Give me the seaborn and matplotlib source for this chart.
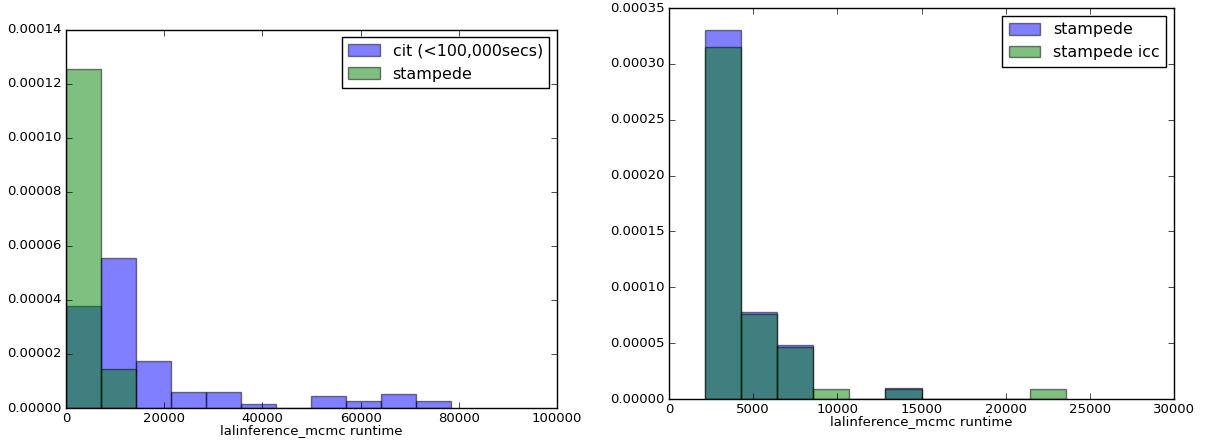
import matplotlib
matplotlib.use("Agg")
import matplotlib.pyplot as plt
import seaborn as sns
import numpy as np

# ---- data (density values) ----
left_bin_edges = [0, 7128, 14256, 21384, 28512, 35640, 42768, 49896, 57024, 64152, 71280, 78408]
cit_density = [0.0000379, 0.0000554, 0.0000175, 0.0000060, 0.0000060, 0.0000016,
               0.0, 0.0000043, 0.0000026, 0.0000052, 0.0000026]
stampede_left_edges = [0, 7128, 14256]
stampede_left_density = [0.0001254, 0.0000145]

right_bin_edges = [2140, 4283, 6426, 8569, 10712, 12855, 14998, 17141, 19284, 21427, 23570]
stampede_density = [0.0003303, 0.0000778, 0.0000487, 0.0, 0.0, 0.0000097, 0.0, 0.0, 0.0, 0.0]
stampede_icc_density = [0.0003151, 0.0000757, 0.0000469, 0.0000093, 0.0, 0.0000090,
                        0.0, 0.0, 0.0, 0.0000093]

left_labels = ["cit (<100,000secs)", "stampede"]
right_labels = ["stampede", "stampede icc"]
xlabel_text = "lalinference_mcmc runtime"
left_yticks = [0, 0.00002, 0.00004, 0.00006, 0.00008, 0.00010, 0.00012, 0.00014]
left_xticks = [0, 20000, 40000, 60000, 80000, 100000]
right_yticks = [0, 0.00005, 0.00010, 0.00015, 0.00020, 0.00025, 0.00030, 0.00035]
right_xticks = [0, 5000, 10000, 15000, 20000, 25000, 30000]

plt.style.use("classic")
plt.rcParams["figure.facecolor"] = "white"
plt.rcParams["savefig.facecolor"] = "white"
plt.rcParams["font.family"] = ["DejaVu Sans"]

TICK_FS = 9.5
LEG_FS = 11.4

fig = plt.figure(figsize=(12.07, 4.41), dpi=100)
ax1 = fig.add_axes([0.0547, 0.0748, 0.4068, 0.8583])
ax2 = fig.add_axes([0.5543, 0.0952, 0.4184, 0.8866])


def centers(edges):
    e = np.asarray(edges, dtype=float)
    return (e[:-1] + e[1:]) / 2


def draw(ax, edges, dens, color, label):
    sns.histplot(x=centers(edges), weights=dens, bins=edges, stat="count",
                 color=color, alpha=0.5, edgecolor=(0, 0, 0, 0.5), linewidth=1.0,
                 label=label, ax=ax)


draw(ax1, left_bin_edges, cit_density, "b", left_labels[0])
draw(ax1, stampede_left_edges, stampede_left_density, "g", left_labels[1])
draw(ax2, right_bin_edges, stampede_density, "b", right_labels[0])
draw(ax2, right_bin_edges, stampede_icc_density, "g", right_labels[1])

for ax, xt, yt in [(ax1, left_xticks, left_yticks), (ax2, right_xticks, right_yticks)]:
    ax.set_xlim(xt[0], xt[-1])
    ax.set_ylim(yt[0], yt[-1])
    ax.set_xticks(xt)
    ax.set_yticks(yt)
    ax.set_ylabel("")
    ax.set_xlabel(xlabel_text, fontsize=TICK_FS, labelpad=-1)
    ax.tick_params(labelsize=TICK_FS, direction="in", top=True, right=True, pad=3)
    fmt = matplotlib.ticker.ScalarFormatter(useOffset=False)
    fmt.set_scientific(False)
    ax.yaxis.set_major_formatter(fmt)
    ax.legend(loc="upper right", fontsize=LEG_FS, fancybox=False, frameon=True,
              borderpad=0.4, handleheight=0.75, labelspacing=0.5,
              borderaxespad=0.5)

fig.savefig("out.png", dpi=100)
